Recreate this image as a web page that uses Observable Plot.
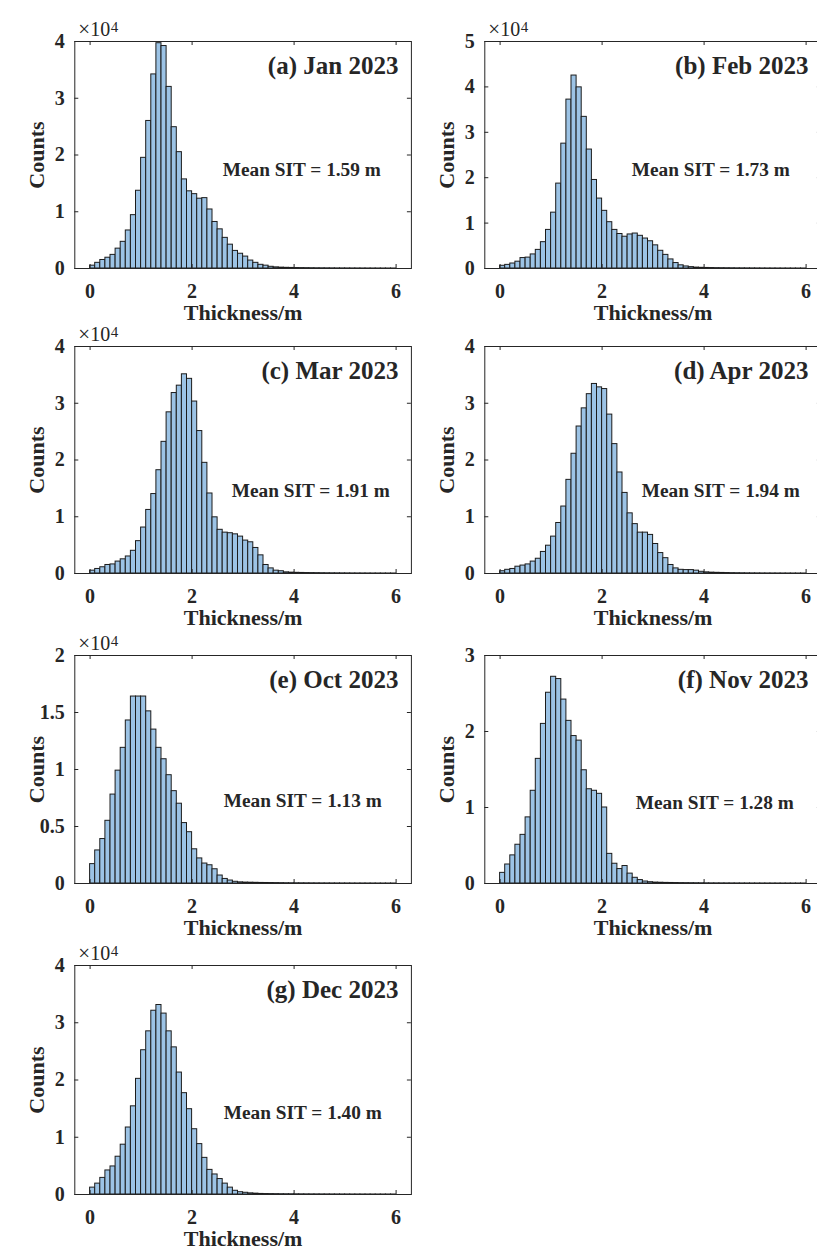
<!DOCTYPE html>
<html><head><meta charset="utf-8">
<script src="https://cdn.jsdelivr.net/npm/d3@7"></script>
<script src="https://cdn.jsdelivr.net/npm/@observablehq/plot@0.6"></script>
<style>
html,body{margin:0;padding:0;background:#fff;overflow:hidden;}
#fig{position:relative;width:817px;height:1250px;overflow:hidden;background:#fff;}
#fig > svg{position:absolute;}
</style></head><body><div id="fig"></div>
<script>
// Histogram bin width (m) and axis ticks
const binWidth = 0.1;
const xTicks = [0, 2, 4, 6];
const xLabel = "Thickness/m";
const yLabel = "Counts";

// Counts per 0.1 m bin, starting at 0 m
const jan = [500,1000,1500,1900,2400,3500,4700,6700,9400,13700,19500,26000,34200,39700,39200,32000,24900,20500,15700,13600,13100,12300,12400,10400,8200,6900,5400,4200,3100,2600,2100,1400,1000,650,500,300,200,150,
  120,100,80,70,60,50,40,35,30,25,20,18,15,12,10,8,6,5,4,3,2,1];
const feb = [600,800,1100,1500,2300,2400,3100,4100,5800,8500,12300,18700,27500,37200,42500,39900,33400,26200,19500,15400,12700,10200,8500,7600,7000,7500,7700,7200,6600,6000,5100,3900,3000,2000,1200,700,450,300,200,150,
  120,100,80,70,60,50,40,35,30,25,20,15,12,10,8,6,5,4,3,2];
const mar = [500,800,1100,1500,1600,2100,2500,3000,4000,5700,8100,11200,14000,18200,23200,28400,31800,33100,35100,34300,30300,25100,19500,14100,9900,7700,7200,7100,6900,6500,5800,5500,4500,3200,1500,900,500,400,200,150,
  120,100,80,70,60,50,40,35,30,25,20,15,12,10,8,6,5,4,3,2];
const apr = [400,650,800,1200,1400,1600,2100,2600,3800,4900,6500,8900,11800,16500,21100,25900,29100,31600,33400,32800,32500,28000,22800,17800,14200,10600,8700,7200,7200,6800,5200,3600,2700,1500,900,650,600,600,500,300,200,150,
  120,100,80,60,50,40,30,25,20,15,12,10,8,6,4,3,2,1];
const oct = [1700,2900,3900,5500,7800,9900,11900,14300,16400,16400,16400,15100,13500,11900,10900,9500,8100,7000,5300,4500,3000,2200,1750,1600,1250,700,400,260,150,100,
  80,70,60,50,45,40,35,30,25,22,20,18,16,14,12,10,9,8,7,6,5,4,3,3,2,2,1,1,1,1];
const nov = [1400,2500,3700,5100,6400,8700,12200,16400,21000,25100,27200,26900,24200,21400,19400,18800,14900,12400,12200,11800,10000,3900,2600,1900,2300,1300,750,450,260,170,
  120,100,80,70,60,50,45,40,35,30,25,20,18,16,14,12,10,8,7,6,5,4,3,3,2,2,1,1,1,1];
const dec = [1200,1900,2900,4200,4900,6600,8700,11700,15400,20200,25200,28500,32100,33100,31600,28500,25700,21300,17700,14900,11400,8800,6400,4300,3500,2700,1900,1200,650,400,300,200,150,100,
  80,70,60,50,45,40,35,30,25,22,20,18,16,14,12,10,8,6,5,4,3,3,2,2,1,1];

const titles = ["(a) Jan 2023","(b) Feb 2023","(c) Mar 2023","(d) Apr 2023","(e) Oct 2023","(f) Nov 2023","(g) Dec 2023"];
const series = [jan, feb, mar, apr, oct, nov, dec];
const meanSIT = [1.59, 1.73, 1.91, 1.94, 1.13, 1.28, 1.40];
const yTickSets = [
  [0,1e4,2e4,3e4,4e4],
  [0,1e4,2e4,3e4,4e4,5e4],
  [0,1e4,2e4,3e4,4e4],
  [0,1e4,2e4,3e4,4e4],
  [0,0.5e4,1e4,1.5e4,2e4],
  [0,1e4,2e4,3e4],
  [0,1e4,2e4,3e4,4e4]
];
const showExponent = [true, true, true, false, true, false, true];

// Layout (pixels)
const colLeft = [0, 410];
const rowFrameTop = [41, 346, 655, 965];
const rowPlotH = [227, 227, 228, 229];
const mL = 74.3, mR = 1.1, plotW = 336.6, mT = 41, mB = 62;
const meanPos = [[227,99],[226,99],[236,83],[236,83],[228,83],[230,81],[228,82]];

const fig = document.getElementById("fig");
const FONT = "'Liberation Serif','Times New Roman',serif";
const INK = "#262626";

series.forEach((vals, i) => {
  const col = i % 2, row = Math.floor(i / 2);
  const plotH = rowPlotH[row];
  const yTicks = yTickSets[i];
  const bins = vals.map((v, k) => ({x1: +(k * binWidth).toFixed(2), x2: +((k + 1) * binWidth).toFixed(2), y: v}));
  const marks = [
    Plot.rectY(bins, {x1: "x1", x2: "x2", y: "y", fill: "#9cc3e5", stroke: "#1c1c1c", strokeWidth: 1}),
    Plot.frame({stroke: INK, strokeWidth: 1}),
    Plot.ruleX(xTicks, {x: d => d, insetTop: plotH - 4, stroke: INK}),
    Plot.ruleX(xTicks, {x: d => d, insetBottom: plotH - 4, stroke: INK}),
    Plot.ruleY(yTicks, {y: d => d, insetRight: plotW - 4, stroke: INK}),
    Plot.ruleY(yTicks, {y: d => d, insetLeft: plotW - 4, stroke: INK}),
    Plot.axisX(xTicks, {tickSize: 0, tickPadding: 15, fontSize: 20, fontWeight: "bold", label: null, tickFormat: d => String(d)}),
    Plot.axisY(yTicks, {tickSize: 0, tickPadding: 10, fontSize: 20, fontWeight: "bold", label: null, tickFormat: d => String(d / 1e4)}),
    Plot.text([xLabel], {text: d => d, frameAnchor: "bottom", dy: 44.5, textAnchor: "middle", lineAnchor: "middle", fontSize: 22, fontWeight: "bold"}),
    Plot.text([yLabel], {text: d => d, frameAnchor: "left", dx: -38, rotate: -90, textAnchor: "middle", lineAnchor: "middle", fontSize: 22, fontWeight: "bold"}),
    Plot.text([titles[i]], {text: d => d, frameAnchor: "top-right", dx: -13, dy: 24, textAnchor: "end", lineAnchor: "middle", fontSize: 25, fontWeight: "bold"}),
    Plot.text([meanSIT[i]], {text: d => `Mean SIT = ${d.toFixed(2)} m`, frameAnchor: "bottom-left", dx: meanPos[i][0], dy: -meanPos[i][1], textAnchor: "middle", lineAnchor: "middle", fontSize: 19.3, fontWeight: "bold"})
  ];
  if (showExponent[i]) {
    marks.push(Plot.text(["\u00d7"], {text: d => d, frameAnchor: "top-left", dx: 3.5, dy: -5.7, textAnchor: "start", lineAnchor: "bottom", fontSize: 21, fontWeight: "normal"}));
    marks.push(Plot.text(["10"], {text: d => d, frameAnchor: "top-left", dx: 15.5, dy: -5.7, textAnchor: "start", lineAnchor: "bottom", fontSize: 20, fontWeight: "normal"}));
    marks.push(Plot.text(["4"], {text: d => d, frameAnchor: "top-left", dx: 36, dy: -10, textAnchor: "start", lineAnchor: "bottom", fontSize: 15, fontWeight: "normal"}));
  }
  const svg = Plot.plot({
    width: mL + plotW + mR,
    height: mT + plotH + mB,
    marginLeft: mL, marginRight: mR, marginTop: mT, marginBottom: mB,
    x: {domain: [-0.3, 6.3]},
    y: {domain: [0, yTicks[yTicks.length - 1]]},
    style: {fontFamily: FONT, fontWeight: "bold", color: INK, background: "transparent", overflow: "visible"},
    marks
  });
  svg.style.left = colLeft[col] + "px";
  svg.style.top = (rowFrameTop[row] - mT) + "px";
  fig.appendChild(svg);
});
</script>
</body></html>
